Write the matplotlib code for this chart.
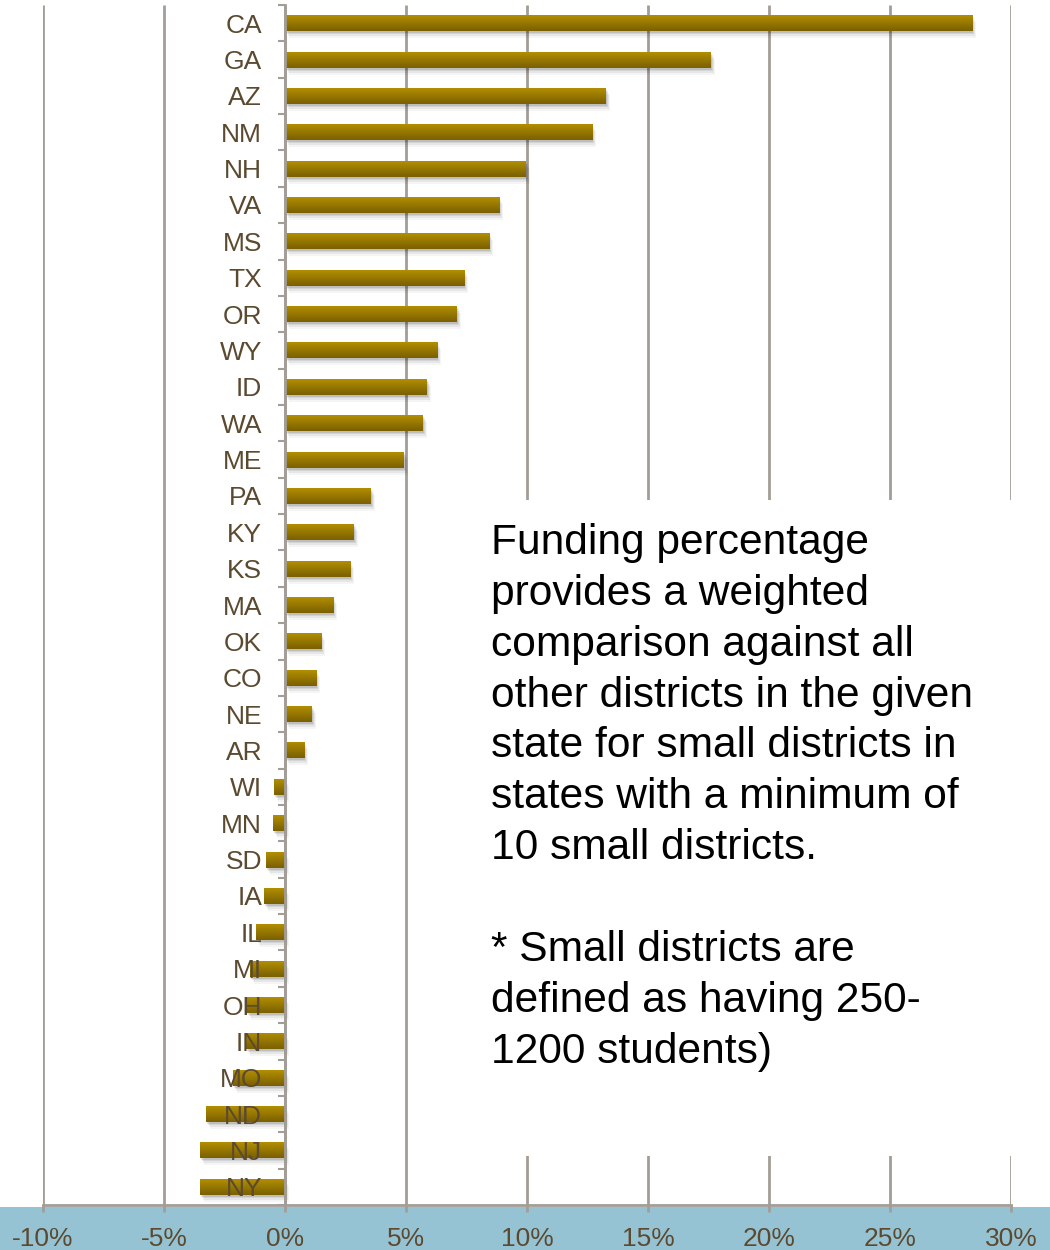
import numpy as np
import matplotlib
matplotlib.use("Agg")
import matplotlib.pyplot as plt
from matplotlib.patches import Rectangle
import matplotlib.transforms as mtransforms
from matplotlib.colors import LinearSegmentedColormap

# Funding percentage of small districts relative to all districts, by state
states = ["CA", "GA", "AZ", "NM", "NH", "VA", "MS", "TX", "OR", "WY", "ID",
          "WA", "ME", "PA", "KY", "KS", "MA", "OK", "CO", "NE", "AR", "WI",
          "MN", "SD", "IA", "IL", "MI", "OH", "IN", "MO", "ND", "NJ", "NY"]
pct = [28.4, 17.6, 13.25, 12.7, 9.95, 8.85, 8.45, 7.4, 7.1, 6.3, 5.85,
       5.7, 4.9, 3.55, 2.85, 2.7, 2.0, 1.5, 1.3, 1.1, 0.8, -0.45,
       -0.5, -0.8, -0.85, -1.2, -1.45, -1.55, -1.6, -2.15, -3.25, -3.5, -3.5]
xticks = [-10, -5, 0, 5, 10, 15, 20, 25, 30]
xticklabels = ["-10%", "-5%", "0%", "5%", "10%", "15%", "20%", "25%", "30%"]

note = ("Funding percentage\n"
        "provides a weighted\n"
        "comparison against all\n"
        "other districts in the given\n"
        "state for small districts in\n"
        "states with a minimum of\n"
        "10 small districts.\n"
        "\n"
        "* Small districts are\n"
        "defined as having 250-\n"
        "1200 students)")

plt.rcParams["font.family"] = ["Liberation Sans", "DejaVu Sans"]

W, H = 1050, 1250
fig = plt.figure(figsize=(W / 100, H / 100), dpi=100)
fig.patch.set_facecolor("white")

# light-blue band behind the x tick labels
fig.patches.append(Rectangle((0, 0), 1, 43 / H, transform=fig.transFigure,
                             facecolor="#96C3D4", edgecolor="none", zorder=-1))

left, right, top, bottom = 43, 1011, 5, 1205
ax = fig.add_axes([left / W, 1 - bottom / H, (right - left) / W, (bottom - top) / H])
ax.set_facecolor("none")

grid_c = "#A39D97"
label_c = "#5B4A30"
n = len(states)
y = np.arange(n)
bh = 0.44

ax.set_xlim(-10, 30)
ax.set_ylim(n - 0.5, -0.5)

# vertical gridlines
ax.vlines(xticks, -0.5, n - 0.5, colors=grid_c, linewidth=2, zorder=0.3)

# white panel holding the note (hides gridlines behind it)
panel = Rectangle((480 / W, 1 - 1156 / H), (1045 - 480) / W, (1156 - 500) / H,
                  transform=fig.transFigure, facecolor="white",
                  edgecolor="none", zorder=0.5)
ax.add_artist(panel)
panel.set_transform(fig.transFigure)

# soft drop shadows
for dx, dy, a in [(1, -2, 0.10), (2, -3, 0.08), (3, -5, 0.06), (4, -7, 0.04)]:
    off = mtransforms.offset_copy(ax.transData, fig=fig, x=dx, y=dy, units="dots")
    ax.barh(y, pct, height=bh, color="#000000", alpha=a, linewidth=0,
            transform=off, zorder=0.8)

# bars with vertical gold gradient
gold = LinearSegmentedColormap.from_list("gold", ["#B28E00", "#7A6000"])
bars = ax.barh(y, pct, height=bh, color="#A08000", linewidth=0, zorder=1)
grad = np.linspace(0, 1, 64).reshape(-1, 1)
for b in bars:
    x0 = b.get_x()
    x1 = x0 + b.get_width()
    y0 = b.get_y()
    y1 = y0 + b.get_height()
    im = ax.imshow(grad, cmap=gold, aspect="auto", extent=(x0, x1, y1, y0),
                   origin="upper", zorder=1.1, interpolation="bilinear")
    im.set_clip_path(b)

ax.set_xlim(-10, 30)
ax.set_ylim(n - 0.5, -0.5)

# spines
for s in ["top", "right"]:
    ax.spines[s].set_visible(False)
ax.spines["left"].set_position(("data", 0))
ax.spines["left"].set_color(grid_c)
ax.spines["left"].set_linewidth(2)
ax.spines["left"].set_zorder(2)
ax.spines["bottom"].set_color(grid_c)
ax.spines["bottom"].set_linewidth(2)

# y axis: state labels, tick marks between categories
ax.set_yticks(y)
ax.set_yticklabels(states)
ax.set_yticks(np.arange(-0.5, n, 1), minor=True)
ax.tick_params(axis="y", which="major", length=0, pad=16.5,
               labelsize=19, labelcolor=label_c)
ax.tick_params(axis="y", which="minor", length=5, width=1.5,
               color=grid_c, direction="out")

# x axis
ax.set_xticks(xticks)
ax.set_xticklabels(xticklabels)
ax.tick_params(axis="x", which="major", length=5, width=2, color=grid_c,
               direction="out", pad=10.5, labelsize=19, labelcolor=label_c)

for t in ax.get_yticklabels() + ax.get_xticklabels():
    t.set_zorder(3)
ax.yaxis.set_zorder(3)

fig.text(491 / W, 1 - 523 / H, note, fontsize=30.6, color="black",
         ha="left", va="top", linespacing=1.35, zorder=3)

fig.savefig("out.png", dpi=100)
